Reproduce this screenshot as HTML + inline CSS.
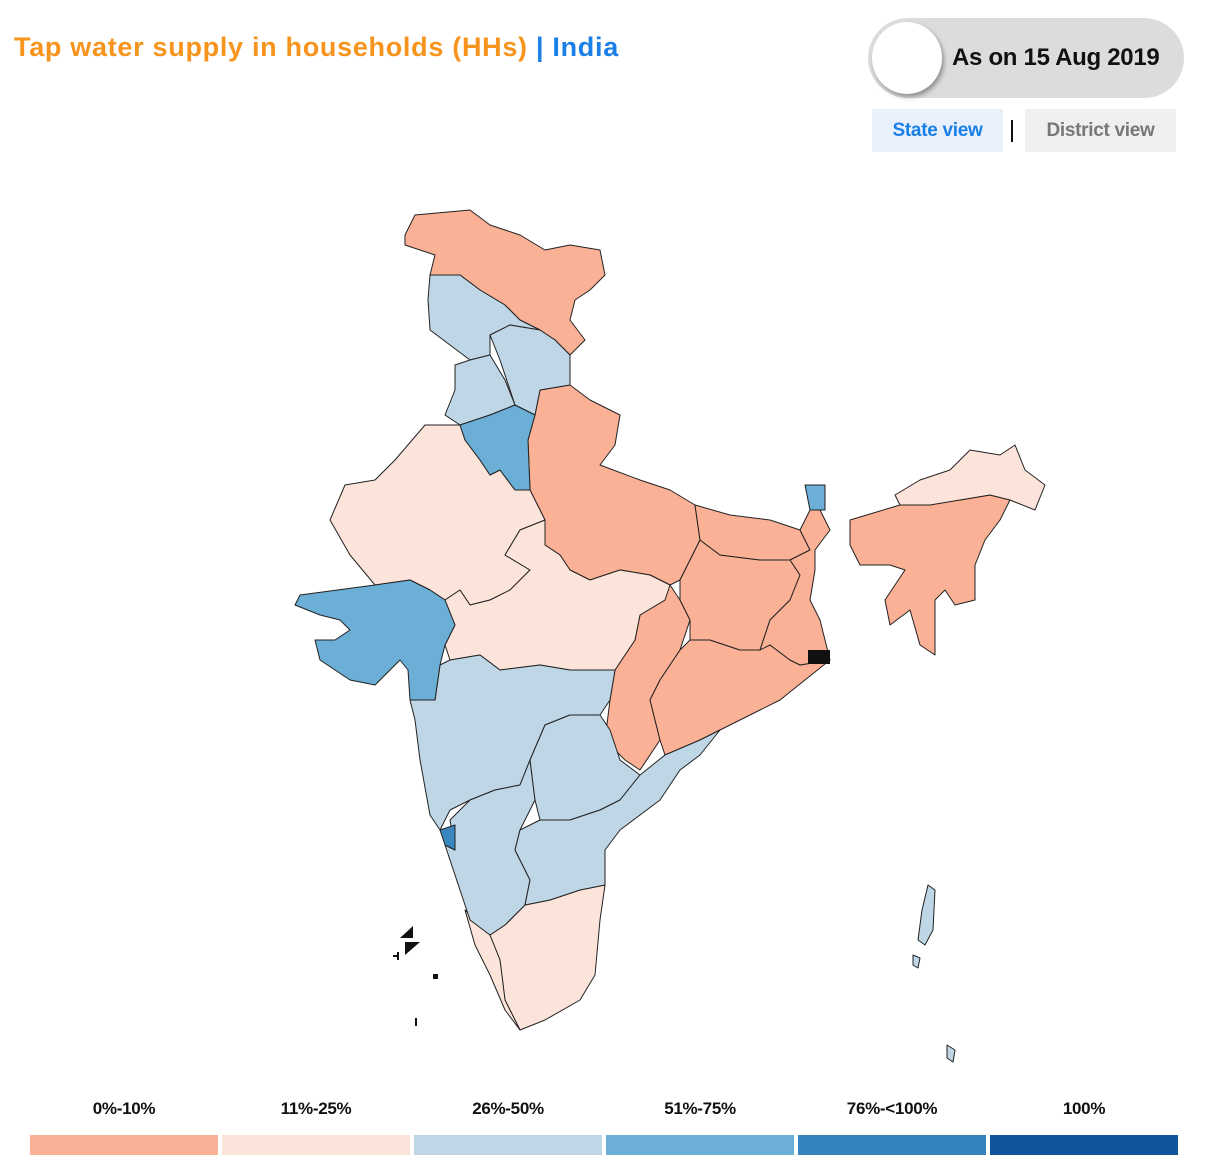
<!DOCTYPE html>
<html><head><meta charset="utf-8"><style>
body{margin:0;width:1214px;height:1168px;background:#fff;font-family:"Liberation Sans",sans-serif;position:relative;overflow:hidden}
.t{position:absolute;left:14px;top:32px;font-size:27px;font-weight:600;color:#f7941d;letter-spacing:0.7px}
.t b{font-weight:600;color:#1a7fe6}
.tog{position:absolute;left:868px;top:18px;width:316px;height:80px;border-radius:40px;background:#dcdcdc}
.knob{position:absolute;left:872px;top:22px;width:70px;height:72px;border-radius:50%;background:#fff;box-shadow:2px 3px 5px rgba(0,0,0,.35)}
.tog span{position:absolute;left:84px;top:26px;font-size:24px;font-weight:600;color:#111;letter-spacing:-0.3px}
.sv{position:absolute;left:872px;top:109px;width:131px;height:43px;background:#e8f0fb;color:#1a7fe6;font-size:19px;font-weight:600;text-align:center;line-height:43px;letter-spacing:-0.3px}
.bar{position:absolute;left:1011px;top:120px;width:2px;height:22px;background:#111}
.dv{position:absolute;left:1025px;top:109px;width:151px;height:43px;background:#efefef;color:#777;font-size:19px;font-weight:600;text-align:center;line-height:43px;letter-spacing:-0.3px}
.lg{position:absolute;top:1099px;width:188px;text-align:center;font-size:17px;font-weight:600;color:#111;letter-spacing:-0.3px}
.lb{position:absolute;top:1135px;width:188px;height:20px}
</style></head><body>
<div class="t">Tap water supply in households (HHs) <b>| India</b></div>
<div class="tog"><span>As on 15 Aug 2019</span></div><div class="knob"></div>
<div class="sv">State view</div><div class="bar"></div><div class="dv">District view</div>
<svg width="1214" height="1168" style="position:absolute;left:0;top:0" stroke="#222" stroke-width="1" stroke-linejoin="round">
<g fill="#fbb195">
<polygon points="405,235 415,215 470,210 490,225 520,235 545,250 570,245 600,250 605,275 590,290 575,300 570,320 585,340 570,355 555,340 540,330 520,320 505,305 480,290 460,275 430,275 435,255 405,245"/>
<polygon points="540,390 570,385 590,400 620,415 615,445 600,465 640,480 670,490 695,505 700,540 690,560 680,580 670,585 650,575 620,570 590,580 570,570 560,555 545,545 545,520 530,490 528,440 535,415"/>
<polygon points="620,570 650,575 670,585 680,600 690,620 680,650 660,680 650,700 660,740 640,770 625,760 605,740 610,700 615,670 635,640 640,615 665,600"/>
<polygon points="690,640 710,640 740,650 770,645 790,660 800,665 830,660 780,700 760,710 720,730 700,740 665,755 660,740 650,700 660,680 680,650"/>
<polygon points="680,580 690,560 700,540 720,555 760,560 790,560 800,575 790,600 770,620 760,650 740,650 710,640 690,640 690,620 680,600"/>
<polygon points="695,505 730,515 770,520 800,530 810,550 790,560 760,560 720,555 700,540"/>
<polygon points="800,530 810,510 820,510 830,530 815,550 815,570 810,600 820,620 830,660 800,665 790,660 770,645 760,650 770,620 790,600 800,575 790,560 810,550"/>
<polygon points="850,520 900,505 960,500 990,495 1010,500 1000,520 985,540 975,565 975,600 955,605 945,590 935,600 935,655 920,645 910,610 890,625 885,600 905,570 890,565 860,565 850,545"/>
</g>
<g fill="#fde4da">
<polygon points="425,425 460,425 465,440 480,460 490,475 500,470 515,490 530,490 545,520 520,530 505,555 530,570 510,590 490,600 470,605 460,590 445,600 430,590 410,580 375,585 350,555 330,520 345,485 375,480 395,460"/>
<polygon points="545,520 545,545 560,555 570,570 590,580 620,570 650,575 670,585 665,600 640,615 635,640 615,670 570,670 540,665 500,670 480,655 450,660 445,645 455,625 445,600 460,590 470,605 490,600 510,590 530,570 505,555 520,530"/>
<polygon points="505,925 525,905 550,900 580,890 605,885 600,920 595,975 580,1000 545,1020 520,1030 505,1000 500,960 490,935"/>
<polygon points="465,910 490,935 500,960 505,1000 520,1030 505,1010 490,975 475,945"/>
<polygon points="895,495 920,480 950,470 970,450 1000,455 1015,445 1025,470 1045,485 1035,510 1010,500 990,495 960,500 930,505 900,505"/>
</g>
<g fill="#bed6e6">
<polygon points="430,275 460,275 480,290 505,305 520,320 540,330 510,325 490,335 490,355 470,360 450,345 430,330 428,300"/>
<polygon points="455,365 470,360 490,355 505,380 515,405 490,415 460,425 445,415 455,390"/>
<polygon points="490,335 510,325 540,330 555,340 570,355 570,385 540,390 535,415 515,405 500,360"/>
<polygon points="410,700 435,700 440,665 450,660 480,655 500,670 540,665 570,670 615,670 610,700 600,715 570,715 545,725 530,760 520,785 495,790 470,800 450,810 440,830 430,815 420,760 415,720"/>
<polygon points="445,845 455,850 450,820 470,800 495,790 520,785 530,760 535,800 520,830 515,850 530,880 525,905 505,925 490,935 470,920 460,890"/>
<polygon points="545,725 570,715 600,715 610,730 620,760 640,775 620,800 600,810 570,820 540,820 535,800 530,760"/>
<polygon points="640,775 665,755 700,740 720,730 700,755 680,770 660,800 640,815 620,830 605,850 605,885 580,890 550,900 525,905 530,880 515,850 520,830 540,820 570,820 600,810 620,800"/>
<polygon points="928,885 935,890 933,930 925,945 918,940 922,910"/>
<polygon points="913,955 920,958 918,968 913,965"/>
<polygon points="947,1045 955,1050 953,1062 947,1058"/>
</g>
<g fill="#6baed6">
<polygon points="460,425 490,415 515,405 535,415 528,440 530,490 515,490 500,470 490,475 480,460 465,440"/>
<polygon points="375,585 410,580 430,590 445,600 455,625 445,645 440,665 435,700 410,700 408,670 400,660 375,685 350,680 320,660 315,640 335,640 350,630 340,620 320,615 295,605 300,595"/>
<polygon points="805,485 825,485 825,510 810,510"/>
</g>
<polygon fill="#3a87c0" points="440,830 455,825 455,850 445,845"/>
<g fill="#111" stroke="none">
<polygon points="400,938 413,926 413,938"/><polygon points="405,955 420,942 405,942"/>
<rect x="433" y="974" width="5" height="5"/><rect x="415" y="1018" width="2" height="8"/>
<rect x="393" y="955" width="6" height="2"/><rect x="397" y="952" width="2" height="8"/>
<rect x="808" y="650" width="22" height="14"/>
</g>
</svg>
<div class="lg" style="left:30px">0%-10%</div><div class="lg" style="left:222px">11%-25%</div><div class="lg" style="left:414px">26%-50%</div><div class="lg" style="left:606px">51%-75%</div><div class="lg" style="left:798px">76%-&lt;100%</div><div class="lg" style="left:990px">100%</div>
<div class="lb" style="left:30px;background:#fbb195"></div><div class="lb" style="left:222px;background:#fde4da"></div><div class="lb" style="left:414px;background:#bed6e6"></div><div class="lb" style="left:606px;background:#6baed6"></div><div class="lb" style="left:798px;background:#3584be"></div><div class="lb" style="left:990px;background:#11569a"></div>
</body></html>
